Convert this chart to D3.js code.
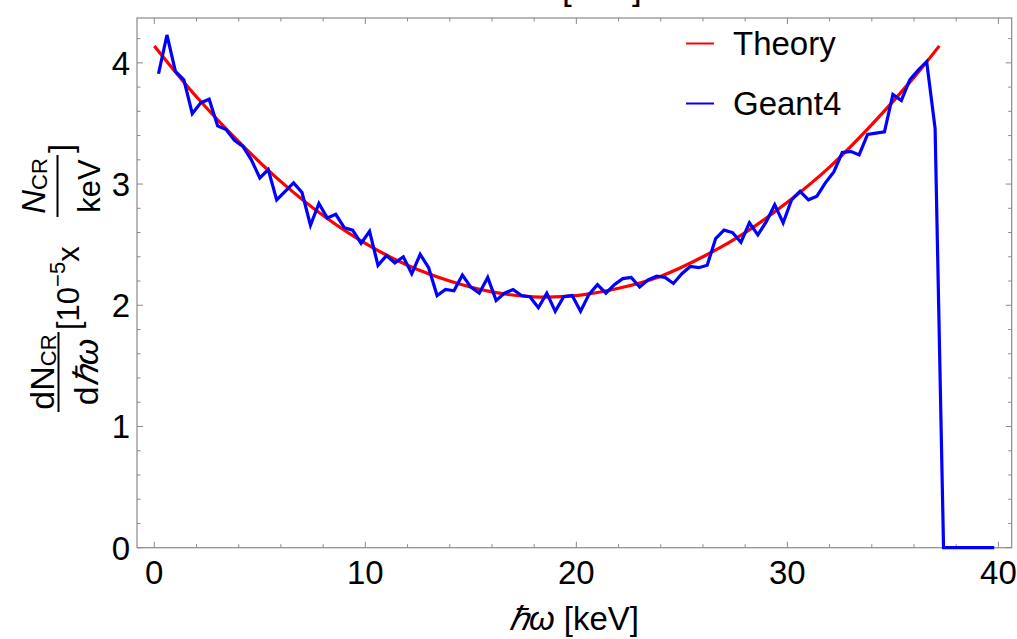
<!DOCTYPE html>
<html>
<head>
<meta charset="utf-8">
<script src="https://cdn.jsdelivr.net/npm/d3@7"></script>
<style>
  body { margin: 0; background: #fff; }
  svg { display: block; font-family: "Liberation Sans", Arial, sans-serif; }
</style>
</head>
<body>
<div id="chart"></div>
<script>
// Geant4 histogram, bin centres (keV) and counts (10^-5 x N_CR / keV)
const energy = [0.2, 0.6, 1.0, 1.4, 1.8, 2.2, 2.6, 3.0, 3.4, 3.8,
  4.2, 4.6, 5.0, 5.4, 5.8, 6.2, 6.6, 7.0, 7.4, 7.8,
  8.2, 8.6, 9.0, 9.4, 9.8, 10.2, 10.6, 11.0, 11.4, 11.8,
  12.2, 12.6, 13.0, 13.4, 13.8, 14.2, 14.6, 15.0, 15.4, 15.8,
  16.2, 16.6, 17.0, 17.4, 17.8, 18.2, 18.6, 19.0, 19.4, 19.8,
  20.2, 20.6, 21.0, 21.4, 21.8, 22.2, 22.6, 23.0, 23.4, 23.8,
  24.2, 24.6, 25.0, 25.4, 25.8, 26.2, 26.6, 27.0, 27.4, 27.8,
  28.2, 28.6, 29.0, 29.4, 29.8, 30.2, 30.6, 31.0, 31.4, 31.8,
  32.2, 32.6, 33.0, 33.4, 33.8, 34.2, 34.6, 35.0, 35.4, 35.8,
  36.2, 36.6, 37.0, 37.4, 37.8, 38.2, 38.6, 39.0, 39.4, 39.8];
const geant4 = [3.91, 4.23, 3.93, 3.86, 3.58, 3.67, 3.70, 3.48, 3.45, 3.36,
  3.31, 3.20, 3.05, 3.12, 2.87, 2.94, 3.01, 2.93, 2.66, 2.84,
  2.72, 2.75, 2.64, 2.62, 2.51, 2.61, 2.33, 2.41, 2.35, 2.40,
  2.26, 2.42, 2.31, 2.08, 2.13, 2.12, 2.25, 2.15, 2.10, 2.23,
  2.04, 2.10, 2.13, 2.08, 2.07, 1.98, 2.10, 1.95, 2.07, 2.08,
  1.95, 2.09, 2.17, 2.10, 2.17, 2.22, 2.23, 2.15, 2.21, 2.24,
  2.23, 2.18, 2.26, 2.32, 2.31, 2.33, 2.55, 2.62, 2.60, 2.52,
  2.68, 2.58, 2.69, 2.83, 2.68, 2.87, 2.94, 2.87, 2.90, 3.01,
  3.10, 3.26, 3.27, 3.24, 3.41, 3.42, 3.43, 3.74, 3.69, 3.86,
  3.94, 4.01, 3.46, 0, 0, 0, 0, 0, 0, 0];

// theory curve
const theoryEnergy = [0, 2, 4, 6, 8, 10, 12, 14, 16, 18, 20, 22, 24, 26, 28, 30, 32, 34, 36, 37.2];
const theory = [4.14, 3.72, 3.35, 3.02, 2.74, 2.51, 2.33, 2.20, 2.11, 2.07,
  2.08, 2.14, 2.24, 2.40, 2.60, 2.85, 3.14, 3.49, 3.88, 4.14];

const xTicks = [0, 10, 20, 30, 40];
const yTicks = [0, 1, 2, 3, 4];
const seriesNames = ["Theory", "Geant4"];
const seriesColors = ["#ff0000", "#0000ff"];

const width = 1017, height = 639;
const frame = { left: 137, right: 1011.7, top: 18, bottom: 547.7 };

const svg = d3.select("#chart")
  .append("svg")
  .attr("width", width)
  .attr("height", height);

const x = d3.scaleLinear().domain([-0.82, 40.63]).range([frame.left, frame.right]);
const y = d3.scaleLinear().domain([0, 4.37]).range([frame.bottom, frame.top]);

// title sits above the page edge, only the bracket tails show (as in the source)
svg.append("text")
  .attr("x", 562).attr("y", 0)
  .attr("font-size", 35)
  .text("[keV]");

// frame
const axisColor = "#8a8a8a";
svg.append("rect")
  .attr("x", frame.left).attr("y", frame.top)
  .attr("width", frame.right - frame.left)
  .attr("height", frame.bottom - frame.top)
  .attr("fill", "none")
  .attr("stroke", axisColor)
  .attr("stroke-width", 1.2);

// ticks, drawn inward on all four sides
const ticks = svg.append("g").attr("stroke", axisColor).attr("stroke-width", 1);
const xMinor = d3.range(0, 40.01, 2);
const yMinor = d3.range(0, 4.37, 0.2);
const isMajor = (v, step) => Math.abs(v / step - Math.round(v / step)) < 1e-6;

xMinor.forEach(v => {
  const len = isMajor(v, 10) ? 6 : 3.5;
  ticks.append("line").attr("x1", x(v)).attr("x2", x(v))
    .attr("y1", frame.bottom).attr("y2", frame.bottom - len);
  ticks.append("line").attr("x1", x(v)).attr("x2", x(v))
    .attr("y1", frame.top).attr("y2", frame.top + len);
});
yMinor.forEach(v => {
  const len = isMajor(v, 1) ? 6 : 3.5;
  ticks.append("line").attr("y1", y(v)).attr("y2", y(v))
    .attr("x1", frame.left).attr("x2", frame.left + len);
  ticks.append("line").attr("y1", y(v)).attr("y2", y(v))
    .attr("x1", frame.right).attr("x2", frame.right - len);
});

// tick labels
svg.append("g")
  .selectAll("text")
  .data(xTicks)
  .join("text")
  .attr("x", d => x(d))
  .attr("y", 584)
  .attr("text-anchor", "middle")
  .attr("font-size", 33)
  .text(d => d);

svg.append("g")
  .selectAll("text")
  .data(yTicks)
  .join("text")
  .attr("x", 130)
  .attr("y", d => y(d) + 12)
  .attr("text-anchor", "end")
  .attr("font-size", 33)
  .text(d => d);

// lines
const theoryLine = d3.line()
  .x((d, i) => x(theoryEnergy[i]))
  .y(d => y(d))
  .curve(d3.curveCatmullRom);

const geantLine = d3.line()
  .x((d, i) => x(energy[i]))
  .y(d => y(d));

svg.append("path")
  .datum(theory)
  .attr("fill", "none")
  .attr("stroke", seriesColors[0])
  .attr("stroke-width", 3.2)
  .attr("d", theoryLine);

svg.append("path")
  .datum(geant4)
  .attr("fill", "none")
  .attr("stroke", seriesColors[1])
  .attr("stroke-width", 3.2)
  .attr("stroke-linejoin", "miter")
  .attr("d", geantLine);

// legend
const legend = svg.append("g")
  .selectAll("g")
  .data(seriesNames)
  .join("g")
  .attr("transform", (d, i) => `translate(686,${43.5 + i * 60})`);

legend.append("line")
  .attr("x1", 0).attr("x2", 28)
  .attr("stroke", (d, i) => seriesColors[i])
  .attr("stroke-width", 2);

legend.append("text")
  .attr("x", 47).attr("y", 11.5)
  .attr("font-size", 33)
  .text(d => d);

// x axis title
const xt = svg.append("text")
  .attr("x", 574).attr("y", 630)
  .attr("text-anchor", "middle")
  .attr("font-size", 33);
xt.append("tspan").attr("font-style", "italic").text("ℏω");
xt.append("tspan").text(" [keV]");

// y axis title, rotated; local x runs up the page, local y runs right
const yl = svg.append("g").attr("transform", "translate(0,412) rotate(-90)");

const num1 = yl.append("text").attr("x", 40).attr("y", 54)
  .attr("text-anchor", "middle").attr("font-size", 34);
num1.append("tspan").text("dN");
num1.append("tspan").attr("font-size", 22).attr("dy", 2).text("CR");

yl.append("line").attr("x1", 0).attr("x2", 80).attr("y1", 58.5).attr("y2", 58.5)
  .attr("stroke", "#000").attr("stroke-width", 2);

const den1 = yl.append("text").attr("x", 40).attr("y", 98)
  .attr("text-anchor", "middle").attr("font-size", 34);
den1.append("tspan").text("d");
den1.append("tspan").attr("font-style", "italic").text("ℏω");

const mid = yl.append("text").attr("x", 82).attr("y", 79).attr("font-size", 31);
mid.append("tspan").text("[10");
mid.append("tspan").attr("font-size", 22).attr("dy", -14).text("−5");
mid.append("tspan").attr("dy", 14).text("x");

const num2 = yl.append("text").attr("x", 226).attr("y", 45)
  .attr("text-anchor", "middle").attr("font-size", 33);
num2.append("tspan").attr("font-style", "italic").text("N");
num2.append("tspan").attr("font-size", 22).attr("dy", 2).text("CR");

yl.append("line").attr("x1", 195).attr("x2", 257).attr("y1", 57.5).attr("y2", 57.5)
  .attr("stroke", "#000").attr("stroke-width", 2);

yl.append("text").attr("x", 226).attr("y", 100)
  .attr("text-anchor", "middle").attr("font-size", 31)
  .text("keV");

yl.append("text").attr("x", 259).attr("y", 72)
  .attr("font-size", 33)
  .text("]");
</script>
</body>
</html>
